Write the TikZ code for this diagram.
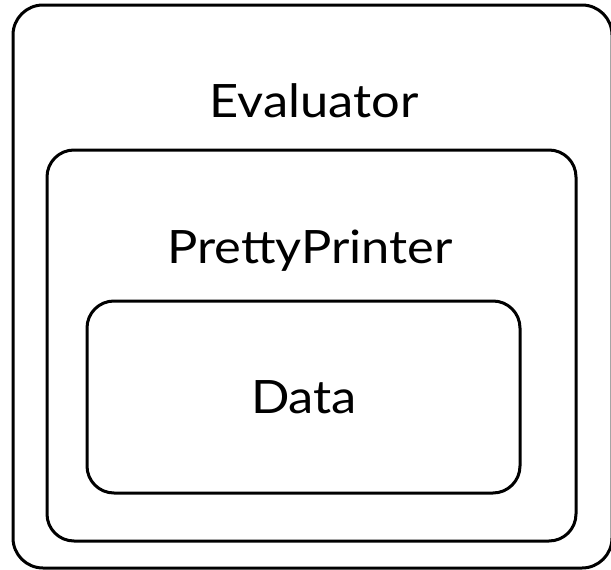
\documentclass[tikz,border=0pt]{standalone}
\usepackage{fontspec}
\setmainfont{Lato}
\begin{document}
\begin{tikzpicture}[x=1pt,y=-1pt,
  box/.style={draw=black,line width=3pt,rounded corners=#1},
  lbl/.style={inner sep=0pt,anchor=base,font=\fontsize{46}{52}\selectfont}]
\useasboundingbox (0,0) rectangle (611,570);
\begin{scope}
\clip (0,0) rectangle (611,570);
\draw[box=30pt] (13,5) rectangle (612,568);
\end{scope}
\draw[box=27pt] (47,150) rectangle (576,541);
\draw[box=27pt] (87,301) rectangle (520,493);
\node[lbl] (evaluator) at (314,117) {\scalebox{1.1}[1]{Evaluator}};
\node[lbl] (pretty) at (310,263) {\scalebox{1.1}[1]{PrettyPrinter}};
\node[lbl] (data) at (304,413) {\scalebox{1.1}[1]{Data}};
\end{tikzpicture}
\end{document}
